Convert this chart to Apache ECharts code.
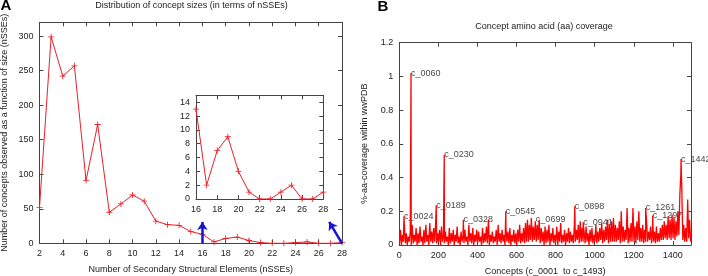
<!DOCTYPE html>
<html lang="en">
<head>
    <meta charset="UTF-8">
    <title>Concept sizes and aa coverage</title>
    <script src="https://cdn.jsdelivr.net/npm/echarts@6/dist/echarts.min.js"></script>
    <style>
        html, body { margin: 0; padding: 0; background: #fff; }
        #main { width: 708px; height: 276px; }
    </style>
</head>
<body>
<div id="main"></div>
<script>
    // panel A: number of concepts per nSSEs
    var sizes = [2, 3, 4, 5, 6, 7, 8, 9, 10, 11, 12, 13, 14, 15, 16, 17, 18, 19, 20, 21, 22, 23, 24, 25, 26, 27, 28];
    var counts = [52, 299, 242, 257, 91, 172, 45, 57, 70, 61, 32, 27, 26, 17, 13, 2, 7, 9, 4, 1, 0, 0, 1, 2, 0, 0, 1];
    var sizeTicks = [2, 28, 2];      // min, max, step of x axis
    var countTicks = [0, 320, 50];
    var insetTicks = [16, 28, 2, 0, 15, 2];

    // panel B: aa coverage, read every 5th concept (c_0001, c_0006, ...)
    var coverageStart = 1;
    var coverageStep = 5;
    var coverage = [
        0.01,0.09,0.00,0.06,0.02,0.11,0.01,0.07,0.00,0.05,
        0.02,0.08,0.00,0.12,0.01,0.06,0.02,0.10,0.00,0.07,
        0.01,0.11,0.02,0.05,0.00,0.09,0.01,0.12,0.02,0.06,
        0.00,0.13,0.02,0.08,0.01,0.10,0.02,0.13,0.01,0.07,
        0.02,0.09,0.00,0.11,0.02,0.06,0.01,0.08,0.02,0.05,
        0.00,0.10,0.01,0.07,0.02,0.09,0.00,0.06,0.02,0.11,
        0.01,0.05,0.00,0.08,0.02,0.06,0.01,0.09,0.02,0.05,
        0.00,0.12,0.02,0.07,0.01,0.10,0.00,0.06,0.02,0.09,
        0.01,0.08,0.02,0.05,0.00,0.10,0.01,0.07,0.02,0.11,
        0.01,0.15,0.00,0.06,0.02,0.08,0.01,0.05,0.02,0.09,
        0.00,0.12,0.02,0.07,0.01,0.09,0.02,0.06,0.00,0.10,
        0.02,0.08,0.01,0.10,0.00,0.06,0.02,0.09,0.01,0.07,
        0.00,0.09,0.02,0.12,0.01,0.07,0.02,0.10,0.01,0.13,
        0.02,0.15,0.02,0.12,0.03,0.16,0.02,0.11,0.03,0.14,
        0.02,0.12,0.03,0.15,0.01,0.10,0.02,0.08,0.00,0.11,
        0.01,0.09,0.02,0.12,0.00,0.07,0.02,0.10,0.01,0.06,
        0.02,0.11,0.00,0.08,0.02,0.13,0.01,0.06,0.02,0.09,
        0.00,0.07,0.02,0.10,0.01,0.08,0.02,0.06,0.01,0.12,
        0.02,0.09,0.03,0.12,0.01,0.14,0.02,0.10,0.02,0.08,
        0.01,0.11,0.02,0.07,0.00,0.09,0.02,0.10,0.01,0.06,
        0.02,0.12,0.01,0.08,0.02,0.10,0.03,0.13,0.01,0.09,
        0.02,0.11,0.03,0.15,0.01,0.12,0.02,0.14,0.02,0.16,
        0.02,0.12,0.02,0.10,0.03,0.14,0.01,0.20,0.02,0.11,
        0.02,0.09,0.03,0.22,0.01,0.10,0.02,0.13,0.02,0.22,
        0.02,0.11,0.01,0.14,0.03,0.20,0.02,0.10,0.02,0.12,
        0.01,0.09,0.02,0.13,0.02,0.08,0.03,0.11,0.01,0.10,
        0.02,0.08,0.01,0.11,0.02,0.07,0.02,0.10,0.03,0.12,
        0.03,0.14,0.04,0.12,0.03,0.17,0.04,0.15,0.03,0.18,
        0.04,0.16,0.03,0.14,0.05,0.20,0.06,0.30,0.42,0.33,
        0.03,0.12,0.02,0.10,0.02,0.27,0.04,0.15,0.02
    ];
    var peakConcepts = [24, 60, 189, 230, 328, 545, 699, 898, 941, 1261, 1297, 1442];
    var peakValues = [0.17, 1.02, 0.235, 0.535, 0.15, 0.2, 0.15, 0.23, 0.135, 0.22, 0.175, 0.51];
    var peakLabels = ['c_0024', 'c_0060', 'c_0189', 'c_0230', 'c_0328', 'c_0545', 'c_0699', 'c_0898', 'c_0941', 'c_1261', 'c_1297', 'c_1442'];
    var conceptTicks = [0, 1493, 200];
    var coverageTicks = [0, 1.2, 0.2];

    var font = 'Liberation Sans';
    var frame = '#444';
    var plus = 'path://M-0.14,-1H0.14V-0.14H1V0.14H0.14V1H-0.14V0.14H-1V-0.14H-0.14Z';

    var sizeData = [];
    var insetData = [];
    for (var i = 0; i < sizes.length; i++) {
        sizeData.push([sizes[i], counts[i]]);
        if (sizes[i] >= insetTicks[0]) insetData.push([sizes[i], counts[i]]);
    }

    var covData = [];
    for (var j = 0; j < coverage.length; j++) {
        covData.push([coverageStart + j * coverageStep, coverage[j]]);
    }
    var peakData = [];
    for (var k = 0; k < peakConcepts.length; k++) {
        covData.push([peakConcepts[k], peakValues[k]]);
        peakData.push({name: peakLabels[k], value: [peakConcepts[k], peakValues[k]]});
    }
    covData.sort(function (a, b) { return a[0] - b[0]; });

    function valAxis(grid, pos, t, labels, showMax, extra) {
        var ax = {
            type: 'value', gridIndex: grid, position: pos,
            min: t[0], max: t[1], interval: t[2],
            axisLine: {show: true, onZero: false, lineStyle: {color: frame, width: 1}},
            splitLine: {show: false},
            axisTick: {show: true, inside: true, length: 4, lineStyle: {color: frame}},
            axisLabel: {
                show: labels, fontSize: 9, fontFamily: font, color: '#222', margin: 6,
                showMinLabel: true, showMaxLabel: showMax,
                formatter: function (v) { return String(+v.toFixed(2)); }
            }
        };
        for (var key in extra) ax[key] = extra[key];
        return ax;
    }

    var nameStyle = {fontSize: 9, fontFamily: font, color: '#222'};

    var option = {
        animation: false,
        backgroundColor: '#fff',
        grid: [
            {left: 39.5, top: 22.3, width: 302.5, height: 221, outerBoundsMode: 'none'},
            {left: 196, top: 95.3, width: 127.3, height: 103.7, show: true, backgroundColor: '#fff', borderWidth: 0, outerBoundsMode: 'none'},
            {left: 399.3, top: 42.7, width: 291.7, height: 202.3, outerBoundsMode: 'none'}
        ],
        xAxis: [
            valAxis(0, 'bottom', sizeTicks, true, true, {name: 'Number of Secondary Structural Elements (nSSEs)', nameLocation: 'middle', nameGap: 22, nameTextStyle: nameStyle}),
            valAxis(0, 'top', sizeTicks, false, true),
            valAxis(1, 'bottom', insetTicks.slice(0, 3), true, true),
            valAxis(1, 'top', insetTicks.slice(0, 3), false, true),
            valAxis(2, 'bottom', conceptTicks, true, false, {name: 'Concepts (c_0001  to c_1493)', nameLocation: 'middle', nameGap: 22, nameTextStyle: nameStyle}),
            valAxis(2, 'top', conceptTicks, false, false)
        ],
        yAxis: [
            valAxis(0, 'left', countTicks, true, false, {name: 'Number of concepts observed as a function of size (nSSEs)', nameLocation: 'middle', nameGap: 30, nameTextStyle: nameStyle}),
            valAxis(0, 'right', countTicks, false, false),
            valAxis(1, 'left', insetTicks.slice(3, 6), true, false),
            valAxis(1, 'right', insetTicks.slice(3, 6), false, false),
            valAxis(2, 'left', coverageTicks, true, true, {name: '%-aa-coverage within wwPDB', nameLocation: 'middle', nameGap: 30, nameTextStyle: nameStyle}),
            valAxis(2, 'right', coverageTicks, false, true)
        ],
        graphic: [
            {type: 'text', x: 191.5, y: 6, style: {text: 'Distribution of concept sizes (in terms of nSSEs)', font: '9px "Liberation Sans"', fill: '#222', align: 'center', verticalAlign: 'middle'}},
            {type: 'text', x: 544, y: 26.5, style: {text: 'Concept amino acid (aa) coverage', font: '9px "Liberation Sans"', fill: '#222', align: 'center', verticalAlign: 'middle'}},
            {type: 'text', x: 6, y: 6, style: {text: 'A', font: 'bold 15px "Liberation Sans"', fill: '#000', align: 'center', verticalAlign: 'middle'}},
            {type: 'text', x: 383, y: 7, style: {text: 'B', font: 'bold 15px "Liberation Sans"', fill: '#000', align: 'center', verticalAlign: 'middle'}}
        ],
        series: [
            {
                type: 'line', xAxisIndex: 0, yAxisIndex: 0, data: sizeData,
                symbol: plus, symbolSize: 6, itemStyle: {color: '#e8202a'},
                lineStyle: {color: '#e8202a', width: 1},
                markLine: {
                    silent: true, symbol: ['none', 'arrow'], symbolSize: 8,
                    label: {show: false},
                    lineStyle: {color: '#1414d2', width: 2.5, type: 'solid'},
                    data: [
                        [{coord: [16, 0]}, {coord: [16, 31]}],
                        [{coord: [28, 0]}, {coord: [26.9, 31]}]
                    ]
                }
            },
            {
                type: 'line', xAxisIndex: 2, yAxisIndex: 2, data: insetData,
                symbol: plus, symbolSize: 6, itemStyle: {color: '#e8202a'},
                lineStyle: {color: '#e8202a', width: 1}
            },
            {
                type: 'line', xAxisIndex: 4, yAxisIndex: 4, data: covData,
                showSymbol: false, sampling: null,
                lineStyle: {color: '#ff0000', width: 1.3}
            },
            {
                type: 'scatter', xAxisIndex: 4, yAxisIndex: 4, data: peakData,
                symbolSize: 0,
                label: {show: true, position: 'right', distance: 0, formatter: '{b}', fontSize: 9, fontFamily: font, color: '#111'}
            }
        ]
    };

    var myChart = echarts.init(document.getElementById('main'));
    myChart.setOption(option);
</script>
</body>
</html>
